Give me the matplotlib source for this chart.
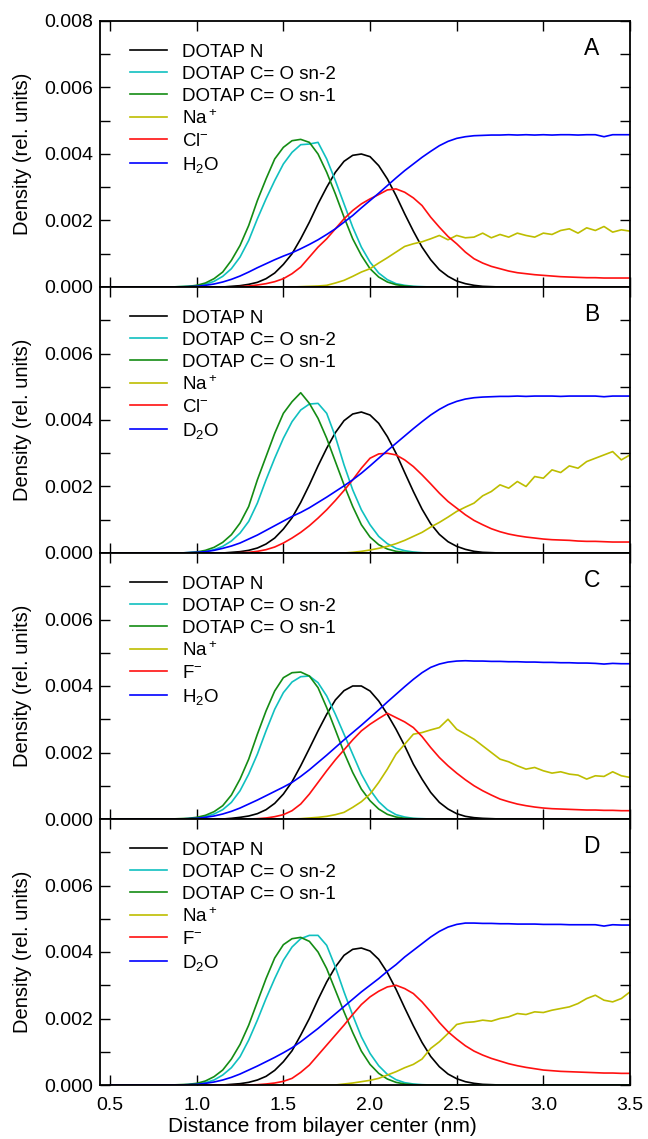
import numpy as np
import matplotlib.pyplot as plt
from matplotlib.ticker import MultipleLocator, FixedLocator, FormatStrFormatter

plt.rcParams['font.family'] = ['Liberation Sans', 'DejaVu Sans']
plt.rcParams['mathtext.fontset'] = 'custom'
plt.rcParams['mathtext.rm'] = 'Liberation Sans'
plt.rcParams['mathtext.it'] = 'Liberation Sans:italic'
plt.rcParams['mathtext.bf'] = 'Liberation Sans:bold'

# distance grid (nm), 0.50 ... 3.50 every 0.05
dist = np.round(np.arange(0.5, 3.5 + 1e-9, 0.05), 2)

# densities in units of 1e-3, one row of 10 per 0.5 nm
# ---- panel A (NaCl, H2O)
a_n = [0, 0, 0, 0, 0, 0, 0, 0, 0, 0,
       0, 0, 0, 0, 0.02, 0.04, 0.08, 0.14, 0.25, 0.42,
       0.68, 1.0, 1.45, 1.95, 2.5, 3.0, 3.45, 3.78, 3.96, 4.0,
       3.92, 3.65, 3.25, 2.75, 2.2, 1.68, 1.2, 0.82, 0.52, 0.32,
       0.18, 0.1, 0.05, 0.02, 0.01, 0, 0, 0, 0, 0,
       0, 0, 0, 0, 0, 0, 0, 0, 0, 0,
       0]
a_sn2 = [0, 0, 0, 0, 0, 0, 0, 0, 0.01, 0.02,
         0.04, 0.08, 0.17, 0.32, 0.55, 0.9, 1.4, 2.05, 2.65, 3.2,
         3.7, 4.05, 4.28, 4.3, 4.35, 3.85, 3.2, 2.5, 1.8, 1.2,
         0.75, 0.42, 0.22, 0.1, 0.05, 0.02, 0.01, 0, 0, 0,
         0, 0, 0, 0, 0, 0, 0, 0, 0, 0,
         0, 0, 0, 0, 0, 0, 0, 0, 0, 0,
         0]
a_sn1 = [0, 0, 0, 0, 0, 0, 0, 0, 0.01, 0.02,
         0.05, 0.12, 0.25, 0.45, 0.8, 1.25, 1.85, 2.6, 3.25, 3.85,
         4.2, 4.4, 4.44, 4.35, 4.0, 3.45, 2.8, 2.1, 1.45, 0.95,
         0.55, 0.3, 0.15, 0.07, 0.03, 0.01, 0, 0, 0, 0,
         0, 0, 0, 0, 0, 0, 0, 0, 0, 0,
         0, 0, 0, 0, 0, 0, 0, 0, 0, 0,
         0]
a_na = [0, 0, 0, 0, 0, 0, 0, 0, 0, 0,
        0, 0, 0, 0, 0, 0, 0, 0, 0, 0,
        0, 0, 0.01, 0.02, 0.03, 0.05, 0.12, 0.2, 0.32, 0.45,
        0.55, 0.72, 0.88, 1.05, 1.22, 1.3, 1.36, 1.45, 1.55, 1.42,
        1.55, 1.48, 1.5, 1.62, 1.48, 1.58, 1.5, 1.62, 1.55, 1.5,
        1.62, 1.58, 1.7, 1.75, 1.62, 1.78, 1.7, 1.82, 1.65, 1.72,
        1.68]
a_ion = [0, 0, 0, 0, 0, 0, 0, 0, 0, 0,
         0, 0, 0, 0, 0, 0.01, 0.03, 0.06, 0.1, 0.16,
         0.25, 0.4, 0.6, 0.9, 1.2, 1.45, 1.75, 2.05, 2.3, 2.5,
         2.65, 2.78, 2.92, 2.95, 2.85, 2.68, 2.45, 2.1, 1.8, 1.52,
         1.3, 1.05, 0.85, 0.72, 0.62, 0.55, 0.48, 0.43, 0.4, 0.37,
         0.35, 0.33, 0.31, 0.3, 0.29, 0.28, 0.28, 0.27, 0.27, 0.27,
         0.27]
a_wat = [0, 0, 0, 0, 0, 0, 0, 0, 0, 0.01,
         0.02, 0.05, 0.09, 0.15, 0.23, 0.33, 0.45, 0.58, 0.7, 0.82,
         0.93, 1.03, 1.15, 1.28, 1.42, 1.58, 1.75, 1.95, 2.15, 2.38,
         2.6, 2.82, 3.05, 3.28, 3.5, 3.7, 3.9, 4.08, 4.25, 4.38,
         4.47, 4.52, 4.55, 4.56, 4.57, 4.57, 4.58, 4.57, 4.58, 4.57,
         4.58, 4.57, 4.58, 4.58, 4.57, 4.58, 4.58, 4.52, 4.58, 4.58,
         4.58]

# ---- panel B (NaCl, D2O)
b_n = [0, 0, 0, 0, 0, 0, 0, 0, 0, 0,
       0, 0, 0, 0, 0.02, 0.04, 0.08, 0.15, 0.27, 0.45,
       0.72, 1.06, 1.52, 2.05, 2.62, 3.15, 3.62, 3.98, 4.18, 4.24,
       4.15, 3.9, 3.5, 3.0, 2.42, 1.85, 1.32, 0.88, 0.56, 0.34,
       0.2, 0.11, 0.05, 0.02, 0.01, 0, 0, 0, 0, 0,
       0, 0, 0, 0, 0, 0, 0, 0, 0, 0,
       0]
b_sn2 = [0, 0, 0, 0, 0, 0, 0, 0, 0, 0.01,
         0.02, 0.05, 0.1, 0.2, 0.36, 0.6, 0.95, 1.5, 2.2, 2.85,
         3.45, 3.95, 4.3, 4.48, 4.5, 4.2, 3.5, 2.65, 1.9, 1.3,
         0.85, 0.5, 0.28, 0.14, 0.07, 0.03, 0.01, 0, 0, 0,
         0, 0, 0, 0, 0, 0, 0, 0, 0, 0,
         0, 0, 0, 0, 0, 0, 0, 0, 0, 0,
         0]
b_sn1 = [0, 0, 0, 0, 0, 0, 0, 0, 0, 0.01,
         0.03, 0.08, 0.17, 0.32, 0.55, 0.9, 1.4, 2.2, 2.9, 3.6,
         4.2, 4.55, 4.82, 4.5, 4.05, 3.45, 2.75, 2.05, 1.4, 0.85,
         0.48, 0.25, 0.12, 0.05, 0.02, 0.01, 0, 0, 0, 0,
         0, 0, 0, 0, 0, 0, 0, 0, 0, 0,
         0, 0, 0, 0, 0, 0, 0, 0, 0, 0,
         0]
b_na = [0, 0, 0, 0, 0, 0, 0, 0, 0, 0,
        0, 0, 0, 0, 0, 0, 0, 0, 0, 0,
        0, 0, 0, 0, 0, 0, 0, 0, 0.02, 0.05,
        0.09, 0.14, 0.2, 0.28, 0.38, 0.5, 0.62, 0.78, 0.92, 1.08,
        1.25, 1.38, 1.5, 1.72, 1.85, 2.05, 1.95, 2.15, 2.0, 2.3,
        2.25, 2.5, 2.42, 2.62, 2.55, 2.75, 2.85, 2.95, 3.05, 2.8,
        2.95]
b_ion = [0, 0, 0, 0, 0, 0, 0, 0, 0, 0,
         0, 0, 0, 0, 0, 0.01, 0.02, 0.05, 0.1, 0.18,
         0.3, 0.45, 0.62, 0.82, 1.05, 1.3, 1.58, 1.88, 2.2, 2.55,
         2.85, 2.98, 3.0, 2.95, 2.8, 2.6, 2.35, 2.08, 1.8, 1.55,
         1.35, 1.15, 0.98, 0.85, 0.73, 0.64, 0.57, 0.52, 0.48, 0.45,
         0.42, 0.4, 0.39, 0.38, 0.36, 0.35, 0.35, 0.34, 0.33, 0.33,
         0.33]
b_wat = [0, 0, 0, 0, 0, 0, 0, 0, 0, 0.01,
         0.02, 0.04, 0.08, 0.14, 0.21, 0.3, 0.42, 0.54, 0.68, 0.82,
         0.96, 1.1, 1.22, 1.36, 1.52, 1.68, 1.85, 2.02, 2.2, 2.4,
         2.62, 2.85, 3.08, 3.3, 3.52, 3.74, 3.95, 4.15, 4.32, 4.46,
         4.56, 4.63, 4.67, 4.69, 4.7, 4.71, 4.71, 4.72, 4.71, 4.72,
         4.72, 4.72, 4.71, 4.72, 4.72, 4.72, 4.72, 4.7, 4.72, 4.72,
         4.72]

# ---- panel C (NaF, H2O)
c_n = [0, 0, 0, 0, 0, 0, 0, 0, 0, 0,
       0, 0, 0, 0, 0.02, 0.05, 0.09, 0.16, 0.28, 0.47,
       0.75, 1.12, 1.6, 2.12, 2.65, 3.15, 3.58, 3.86, 4.0, 4.0,
       3.85, 3.55, 3.15, 2.7, 2.2, 1.65, 1.2, 0.8, 0.5, 0.3,
       0.16, 0.08, 0.04, 0.02, 0.01, 0, 0, 0, 0, 0,
       0, 0, 0, 0, 0, 0, 0, 0, 0, 0,
       0]
c_sn2 = [0, 0, 0, 0, 0, 0, 0, 0, 0, 0.01,
         0.03, 0.07, 0.15, 0.28, 0.5, 0.85, 1.35, 1.95, 2.65, 3.3,
         3.8, 4.12, 4.28, 4.3, 4.1, 3.7, 3.15, 2.55, 1.95, 1.35,
         0.88, 0.52, 0.28, 0.13, 0.06, 0.02, 0.01, 0, 0, 0,
         0, 0, 0, 0, 0, 0, 0, 0, 0, 0,
         0, 0, 0, 0, 0, 0, 0, 0, 0, 0,
         0]
c_sn1 = [0, 0, 0, 0, 0, 0, 0, 0, 0.01, 0.02,
         0.05, 0.11, 0.22, 0.4, 0.72, 1.2, 1.8, 2.55, 3.25, 3.85,
         4.25, 4.4, 4.42, 4.3, 3.95, 3.35, 2.68, 2.0, 1.4, 0.9,
         0.55, 0.3, 0.14, 0.06, 0.02, 0.01, 0, 0, 0, 0,
         0, 0, 0, 0, 0, 0, 0, 0, 0, 0,
         0, 0, 0, 0, 0, 0, 0, 0, 0, 0,
         0]
c_na = [0, 0, 0, 0, 0, 0, 0, 0, 0, 0,
        0, 0, 0, 0, 0, 0, 0, 0, 0, 0,
        0, 0, 0.01, 0.03, 0.05, 0.08, 0.13, 0.2, 0.35, 0.52,
        0.75, 1.1, 1.5, 1.95, 2.25, 2.55, 2.6, 2.68, 2.75, 3.0,
        2.7, 2.55, 2.4, 2.2, 2.0, 1.8, 1.72, 1.6, 1.5, 1.55,
        1.45, 1.38, 1.42, 1.35, 1.32, 1.2, 1.3, 1.28, 1.42, 1.3,
        1.25]
c_ion = [0, 0, 0, 0, 0, 0, 0, 0, 0, 0,
         0, 0, 0, 0, 0, 0, 0, 0.01, 0.03, 0.07,
         0.13, 0.25, 0.45, 0.75, 1.1, 1.45, 1.78, 2.08, 2.38, 2.65,
         2.85, 3.02, 3.18, 3.05, 2.92, 2.75, 2.48, 2.15, 1.85, 1.6,
         1.38, 1.18, 1.0, 0.85, 0.72, 0.6, 0.52, 0.45, 0.4, 0.36,
         0.33, 0.31, 0.3, 0.29, 0.28, 0.27, 0.27, 0.26, 0.26, 0.25,
         0.25]
c_wat = [0, 0, 0, 0, 0, 0, 0, 0, 0, 0.01,
         0.02, 0.05, 0.09, 0.15, 0.23, 0.33, 0.45, 0.57, 0.7, 0.83,
         0.96, 1.1, 1.28, 1.48, 1.7, 1.92, 2.15, 2.38, 2.6, 2.82,
         3.05, 3.28, 3.52, 3.75, 3.98, 4.2, 4.4, 4.56, 4.66, 4.72,
         4.75, 4.76, 4.75, 4.75, 4.74, 4.74, 4.73, 4.73, 4.72, 4.72,
         4.71, 4.71, 4.7, 4.7, 4.69, 4.69, 4.68, 4.66, 4.68, 4.67,
         4.67]

# ---- panel D (NaF, D2O)
d_n = [0, 0, 0, 0, 0, 0, 0, 0, 0, 0,
       0, 0, 0, 0, 0.02, 0.04, 0.08, 0.15, 0.26, 0.44,
       0.7, 1.03, 1.5, 2.0, 2.57, 3.1, 3.55, 3.9, 4.08, 4.12,
       4.03, 3.78, 3.38, 2.88, 2.32, 1.78, 1.28, 0.86, 0.55, 0.33,
       0.19, 0.1, 0.05, 0.02, 0.01, 0, 0, 0, 0, 0,
       0, 0, 0, 0, 0, 0, 0, 0, 0, 0,
       0]
d_sn2 = [0, 0, 0, 0, 0, 0, 0, 0, 0, 0.01,
         0.03, 0.07, 0.15, 0.3, 0.52, 0.85, 1.35, 1.95, 2.6, 3.2,
         3.75, 4.15, 4.4, 4.5, 4.5, 4.2, 3.55, 2.8, 2.1, 1.45,
         0.95, 0.58, 0.32, 0.16, 0.07, 0.03, 0.01, 0, 0, 0,
         0, 0, 0, 0, 0, 0, 0, 0, 0, 0,
         0, 0, 0, 0, 0, 0, 0, 0, 0, 0,
         0]
d_sn1 = [0, 0, 0, 0, 0, 0, 0, 0, 0.01, 0.02,
         0.05, 0.12, 0.25, 0.45, 0.78, 1.22, 1.8, 2.5, 3.2, 3.82,
         4.22, 4.4, 4.44, 4.32, 4.0, 3.5, 2.85, 2.2, 1.58, 1.02,
         0.62, 0.35, 0.18, 0.08, 0.03, 0.01, 0, 0, 0, 0,
         0, 0, 0, 0, 0, 0, 0, 0, 0, 0,
         0, 0, 0, 0, 0, 0, 0, 0, 0, 0,
         0]
d_na = [0, 0, 0, 0, 0, 0, 0, 0, 0, 0,
        0, 0, 0, 0, 0, 0, 0, 0, 0, 0,
        0, 0, 0, 0, 0, 0, 0, 0.03, 0.06, 0.1,
        0.14, 0.2, 0.3, 0.4, 0.52, 0.62, 0.78, 1.1, 1.3, 1.55,
        1.82, 1.88, 1.9, 1.95, 1.92, 2.0, 2.05, 2.15, 2.12, 2.2,
        2.18, 2.25, 2.3, 2.35, 2.45, 2.6, 2.7, 2.55, 2.5, 2.6,
        2.8]
d_ion = [0, 0, 0, 0, 0, 0, 0, 0, 0, 0,
         0, 0, 0, 0, 0, 0, 0, 0.01, 0.03, 0.06,
         0.11, 0.2, 0.38, 0.6, 0.9, 1.2, 1.5, 1.8, 2.12, 2.42,
         2.65, 2.82, 2.95, 3.0, 2.9, 2.75, 2.5, 2.2, 1.88, 1.6,
         1.38, 1.18, 1.02, 0.9, 0.8, 0.72, 0.64, 0.58, 0.53, 0.49,
         0.45, 0.43, 0.41, 0.4, 0.39, 0.38, 0.37, 0.36, 0.36, 0.35,
         0.35]
d_wat = [0, 0, 0, 0, 0, 0, 0, 0, 0, 0.01,
         0.02, 0.05, 0.09, 0.15, 0.23, 0.33, 0.45, 0.57, 0.7, 0.83,
         0.97, 1.12, 1.3, 1.5, 1.7, 1.92, 2.14, 2.36, 2.58, 2.8,
         3.0, 3.2, 3.42, 3.62, 3.85, 4.05, 4.25, 4.45, 4.62, 4.75,
         4.83, 4.87, 4.87, 4.86, 4.86, 4.85, 4.85, 4.84, 4.84, 4.84,
         4.83, 4.83, 4.83, 4.82, 4.82, 4.82, 4.82, 4.78, 4.82, 4.81,
         4.81]

panel_letters = ['A', 'B', 'C', 'D']
anion_labels = ['Cl$^{-}$', 'Cl$^{-}$', 'F$^{-}$', 'F$^{-}$']
water_labels = ['H$_2$O', 'D$_2$O', 'H$_2$O', 'D$_2$O']
panel_data = [
    [a_n, a_sn2, a_sn1, a_na, a_ion, a_wat],
    [b_n, b_sn2, b_sn1, b_na, b_ion, b_wat],
    [c_n, c_sn2, c_sn1, c_na, c_ion, c_wat],
    [d_n, d_sn2, d_sn1, d_na, d_ion, d_wat],
]
colors = ['black', '#10C0C0', '#148C14', '#BDBD00', '#FF1010', '#0000FF']

fig = plt.figure(figsize=(6.48, 11.39), dpi=100)

left, width = 100 / 648, 530 / 648
ph = 266 / 1139
bottom0 = 1 - 1085 / 1139

for i, series in enumerate(panel_data):
    ax = fig.add_axes([left, bottom0 + (3 - i) * ph, width, ph])
    labels = ['DOTAP N', 'DOTAP C= O sn-2', 'DOTAP C= O sn-1',
              'Na$\\,^{+}$', anion_labels[i], water_labels[i]]
    for vals, col, lab in zip(series, colors, labels):
        assert len(vals) == len(dist)
        ax.plot(dist, np.array(vals) * 1e-3, color=col, lw=1.2, label=lab)

    ax.set_xlim(0.442, 3.5)
    ax.set_ylim(0, 0.008)
    ax.xaxis.set_major_locator(MultipleLocator(0.5))
    ax.xaxis.set_major_formatter(FormatStrFormatter('%.1f'))
    if i == 0:
        ax.yaxis.set_major_locator(FixedLocator([0, 0.002, 0.004, 0.006, 0.008]))
    else:
        ax.yaxis.set_major_locator(FixedLocator([0, 0.002, 0.004, 0.006]))
    ax.yaxis.set_minor_locator(FixedLocator([0.001, 0.003, 0.005, 0.007]))
    ax.yaxis.set_major_formatter(FormatStrFormatter('%.3f'))
    ax.tick_params(which='both', direction='in', top=True, right=True,
                   length=7, width=1.0, labelsize=14)
    ax.tick_params(axis='y', pad=5)
    ax.tick_params(axis='x', pad=9)
    if i < 3:
        ax.tick_params(axis='x', labelbottom=False)
    for sp in ax.spines.values():
        sp.set_linewidth(1.3)

    ax.set_ylabel('Density (rel. units)', fontsize=14.5)
    ax.yaxis.set_label_coords(-0.128, 0.5)

    ax.text(0.928, 0.898, panel_letters[i], transform=ax.transAxes,
            fontsize=16.5, ha='center', va='center')

    ax.legend(loc='upper left', bbox_to_anchor=(0.057, 0.914), frameon=False,
              fontsize=13.5, handlelength=1.95, handletextpad=0.8,
              labelspacing=0.25, borderpad=0, borderaxespad=0)

fig.text(0.497, 1 - 1127 / 1139, 'Distance from bilayer center (nm)',
         fontsize=15, ha='center', va='center')

fig.savefig('out.png', dpi=100)
